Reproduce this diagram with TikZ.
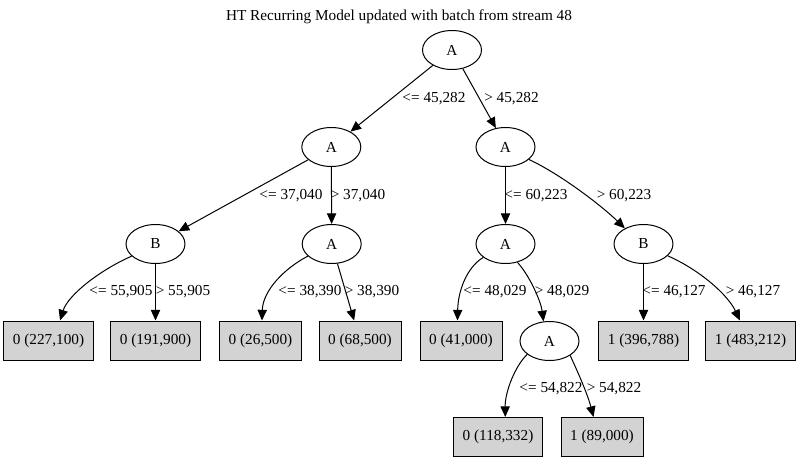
\documentclass[tikz,border=0pt]{standalone}
\usepackage{fontspec}
\setmainfont{Liberation Serif}
\usetikzlibrary{arrows.meta,shapes.geometric}
\definecolor{leafgray}{RGB}{211,211,211}
\tikzset{
  split/.style={ellipse, draw, line width=0.75pt, minimum width=44.25pt, minimum height=29.25pt, inner sep=0pt},
  leaf/.style={rectangle, draw, fill=leafgray, line width=0.75pt, minimum height=29.25pt, inner xsep=6.9pt, inner ysep=0pt},
  elabel/.style={inner sep=0pt},
  edge/.style={line width=0.75pt, -{Triangle[length=8pt,width=7pt]}},
}
\begin{document}
\begin{tikzpicture}[x=0.75pt,y=-0.75pt,font=\fontsize{11.45}{13.7}\selectfont]
\useasboundingbox (0,0) rectangle (800,461);
\node[elabel] (title) at (399,17) {HT Recurring Model updated with batch from stream 48};
% split nodes
\node[split] (root) at (452,50) {A};
\node[split] (L1) at (331.3,147) {A};
\node[split] (R1) at (505.5,147) {A};
\node[split] (LL) at (155.5,244) {B};
\node[split] (LR) at (331.7,244) {A};
\node[split] (RL) at (505.5,244) {A};
\node[split] (RR) at (643.5,244) {B};
\node[split] (A3) at (549.5,341) {A};
% leaves
\node[leaf] (l1) at (48.5,340.5) {0 (227,100)};
\node[leaf] (l2) at (155.5,340.5) {0 (191,900)};
\node[leaf] (l3) at (260.5,340.5) {0 (26,500)};
\node[leaf] (l4) at (360,340.5) {0 (68,500)};
\node[leaf] (l5) at (461,340.5) {0 (41,000)};
\node[leaf] (l6) at (643.5,340.5) {1 (396,788)};
\node[leaf] (l7) at (750.5,340.5) {1 (483,212)};
\node[leaf] (l8) at (498,437) {0 (118,332)};
\node[leaf] (l9) at (602,437) {1 (89,000)};
% edges
\draw[edge] (root) -- (L1);
\draw[edge] (root.300) -- (R1.117);
\draw[edge] (L1) -- (LL);
\draw[edge] (L1) -- (LR);
\draw[edge] (R1) -- (RL);
\draw[edge] (R1.332) .. controls (562,175) and (603,207) .. (RR.140);
\draw[edge] (LL.207.5) .. controls (100,270) and (68,295) .. (l1.60);
\draw[edge] (LL) -- (l2);
\draw[edge] (LR.207.5) .. controls (285,268) and (263,290) .. (l3.86);
\draw[edge] (LR) -- (l4);
\draw[edge] (RL.211) .. controls (466,268) and (458,292) .. (l5.100);
\draw[edge] (RL.303.4) .. controls (530,276) and (541,302) .. (A3.107.8);
\draw[edge] (RR) -- (l6);
\draw[edge] (RR.334.4) .. controls (700,270) and (728,295) .. (l7.118);
\draw[edge] (A3.211) .. controls (515,366) and (505,392) .. (l8.70);
\draw[edge] (A3.325.4) .. controls (575,366) and (587,392) .. (l9.113);
% edge labels
\node[elabel] (e1) at (434,99) {<= 45,282};
\node[elabel] (e2) at (511.5,99) {> 45,282};
\node[elabel] (e3) at (291,196) {<= 37,040};
\node[elabel] (e4) at (358,196) {> 37,040};
\node[elabel] (e5) at (536,196) {<= 60,223};
\node[elabel] (e6) at (624,196) {> 60,223};
\node[elabel] (e7) at (121,292) {<= 55,905};
\node[elabel] (e8) at (183,292) {> 55,905};
\node[elabel] (e9) at (310,292) {<= 38,390};
\node[elabel] (e10) at (372,292) {> 38,390};
\node[elabel] (e11) at (495,292) {<= 48,029};
\node[elabel] (e12) at (562,292) {> 48,029};
\node[elabel] (e13) at (674,292) {<= 46,127};
\node[elabel] (e14) at (753,292) {> 46,127};
\node[elabel] (e15) at (551,389) {<= 54,822};
\node[elabel] (e16) at (614,389) {> 54,822};
\end{tikzpicture}
\end{document}
